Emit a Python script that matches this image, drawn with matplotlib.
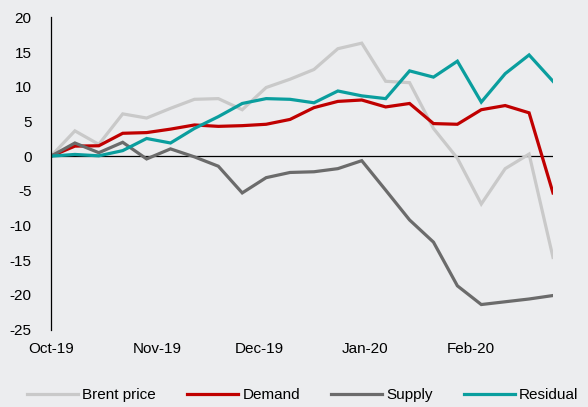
import matplotlib
matplotlib.use("Agg")
import matplotlib.pyplot as plt
import matplotlib.dates as mdates
import pandas as pd

plt.rcParams['font.family'] = ['Liberation Sans', 'DejaVu Sans']
plt.rcParams['axes.unicode_minus'] = False

dates = pd.date_range("2019-10-01", periods=22, freq="7D")

brent = [0, 3.65, 1.7, 6.1, 5.5, 6.9, 8.2, 8.3, 6.7, 9.9, 11.1,
         12.5, 15.5, 16.3, 10.8, 10.6, 4.0, -0.3, -6.9, -1.8, 0.3, -14.6]
demand = [0, 1.45, 1.5, 3.3, 3.4, 3.9, 4.5, 4.3, 4.4, 4.6, 5.3,
          7.0, 7.9, 8.1, 7.1, 7.6, 4.7, 4.6, 6.7, 7.3, 6.25, -5.3]
supply = [0, 1.9, 0.5, 2.0, -0.4, 1.05, -0.1, -1.45, -5.3, -3.1, -2.35,
          -2.25, -1.8, -0.65, -4.9, -9.2, -12.4, -18.7, -21.4, -21.0, -20.6, -20.1]
residual = [0, 0.25, 0.05, 0.8, 2.55, 1.9, 4.0, 5.7, 7.6, 8.3, 8.2,
            7.7, 9.4, 8.7, 8.3, 12.3, 11.4, 13.7, 7.8, 11.9, 14.6, 10.8]

series = [("Brent price", brent, "#C9C9C9"),
          ("Demand", demand, "#C00000"),
          ("Supply", supply, "#6B6B6B"),
          ("Residual", residual, "#0A9E9E")]

y_ticks = [20, 15, 10, 5, 0, -5, -10, -15, -20, -25]

bg = "#ECEDEF"
fig = plt.figure(figsize=(5.88, 4.07), dpi=100, facecolor=bg)
ax = fig.add_axes([51/588, 1-329.5/407, (553-51)/588, (329.5-17.5)/407])
ax.set_facecolor(bg)

ax.axhline(0, color="black", lw=0.9, zorder=1)
for name, vals, col in series:
    ax.plot(dates, vals, color=col, lw=2.3, label=name, zorder=2,
            solid_joinstyle="miter")

ax.set_ylim(-25, 20)
ax.set_yticks(y_ticks)
ax.set_xlim(dates[0], dates[-1])
ax.xaxis.set_major_locator(mdates.MonthLocator())
ax.xaxis.set_major_formatter(mdates.DateFormatter("%b-%y"))

for s in ["top", "right", "bottom"]:
    ax.spines[s].set_visible(False)
ax.spines["left"].set_color("black")
ax.spines["left"].set_linewidth(0.9)
ax.tick_params(axis="both", length=0, labelsize=11, colors="black")
ax.tick_params(axis="y", pad=14)
ax.tick_params(axis="x", pad=9)

fig.legend(loc="center", bbox_to_anchor=(303/588, 1-395/407), ncol=4,
           frameon=False, fontsize=11, handlelength=3.3, handletextpad=0.3,
           columnspacing=2.05)

fig.savefig("out.png", dpi=100, facecolor=bg)
